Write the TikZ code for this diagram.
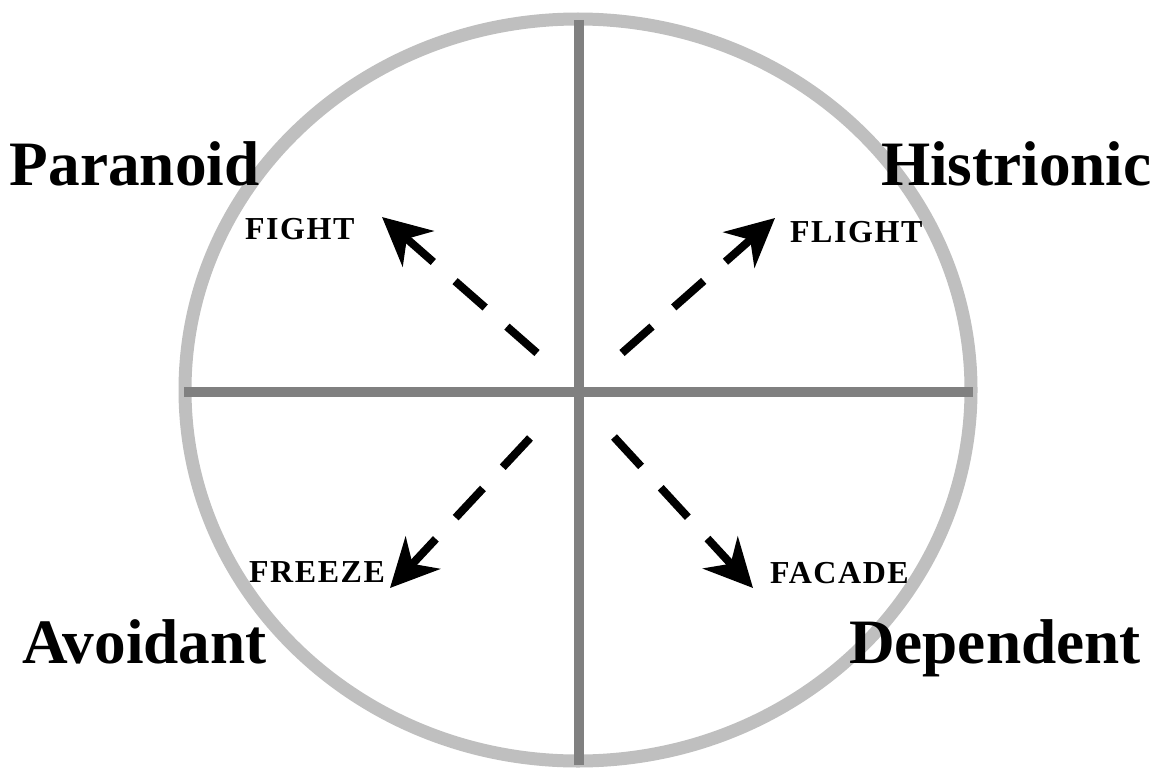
\documentclass[tikz,border=0pt]{standalone}
\usepackage{fontspec}
\setmainfont{Liberation Serif}
\usetikzlibrary{arrows.meta}

\begin{document}
\begin{tikzpicture}[x=0.02cm,y=-0.02cm,
  every node/.style={inner sep=0pt, outer sep=0pt},
  bigname/.style={anchor=base west, font=\fontsize{36}{36}\selectfont\bfseries},
  smallname/.style={anchor=base west, font=\fontsize{18.2}{18}\selectfont\bfseries\addfontfeatures{LetterSpace=5}},
  response/.style={line width=0.16cm, dash pattern=on 0.8cm off 0.58cm,
    -{Stealth[length=0.96cm, width=0.94cm, inset=0.3cm]}}]
\useasboundingbox (0,0) rectangle (1151,770);

\draw[color=black!25,line width=0.26cm] (578,390) ellipse [x radius=393, y radius=371];
\draw[color=black!50,line width=0.2cm] (579,20) -- (579,765);
\draw[color=black!50,line width=0.2cm] (184,392) -- (973,392);

\node[bigname] (paranoid) at (10,185) {Paranoid};
\node[bigname] (histrionic) at (881,185) {Histrionic};
\node[bigname] (avoidant) at (22,663) {Avoidant};
\node[bigname] (dependent) at (849,663) {Dependent};

\node[smallname] (fight) at (245,239) {FIGHT};
\node[smallname] (flight) at (790,242) {FLIGHT};
\node[smallname] (freeze) at (249,582) {FREEZE};
\node[smallname] (facade) at (770,583) {FACADE};

\coordinate (fighttail) at (537,353);
\coordinate (fighttip) at (382,217);
\coordinate (flighttail) at (622,353);
\coordinate (flighttip) at (775,218);
\coordinate (freezetail) at (530,438);
\coordinate (freezetip) at (390,588);
\coordinate (facadetail) at (614,437);
\coordinate (facadetip) at (753,588);

\draw[response] (fighttail) -- (fighttip);
\draw[response] (flighttail) -- (flighttip);
\draw[response] (freezetail) -- (freezetip);
\draw[response] (facadetail) -- (facadetip);
\end{tikzpicture}
\end{document}
